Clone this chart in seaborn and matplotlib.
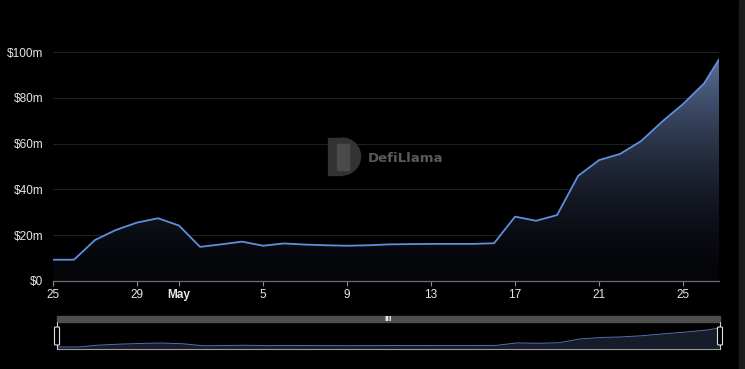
import matplotlib
matplotlib.use("Agg")
import matplotlib.dates as mdates
import matplotlib.pyplot as plt
import numpy as np
import pandas as pd
import seaborn as sns
from matplotlib.colors import LinearSegmentedColormap, to_rgb
from matplotlib.patches import FancyBboxPatch, Rectangle, Wedge

# daily TVL in $m, last point is an intraday reading
DATES = pd.to_datetime(
    list(pd.date_range("2024-04-25", "2024-05-26", freq="D")) + [pd.Timestamp("2024-05-26 17:00")]
)
TVL_M = [
    9.3, 9.3, 17.9, 22.3, 25.5, 27.4, 24.2, 14.9, 16.0, 17.2,
    15.4, 16.4, 15.9, 15.6, 15.4, 15.6, 16.0, 16.1, 16.2, 16.2,
    16.2, 16.5, 28.1, 26.3, 28.8, 45.9, 52.8, 55.5, 61.1, 69.6,
    77.3, 86.3, 96.8,
]
X_TICK_DATES = pd.to_datetime(
    ["2024-04-25", "2024-04-29", "2024-05-01", "2024-05-05", "2024-05-09",
     "2024-05-13", "2024-05-17", "2024-05-21", "2024-05-25"]
)
X_TICK_LABELS = ["25", "29", "May", "5", "9", "13", "17", "21", "25"]
Y_TICKS = [0, 20, 40, 60, 80, 100]
Y_TICK_LABELS = ["$0", "$20m", "$40m", "$60m", "$80m", "$100m"]

LINE = "#5f8fdc"
BG = "#000000"

W, H = 745, 369


def smooth_cmap(lo: str, hi: str, gamma: float = 1.7) -> LinearSegmentedColormap:
    lo_rgb = np.array(to_rgb(lo))
    hi_rgb = np.array(to_rgb(hi))
    t = np.linspace(0, 1, 64)
    cols = [tuple(lo_rgb + (hi_rgb - lo_rgb) * v ** gamma) for v in t]
    return LinearSegmentedColormap.from_list("tvl_fill", cols)


CMAP_FILL = smooth_cmap("#040509", "#5e739e")


def fig_box(x0, y0, x1, y1):
    return [x0 / W, 1 - y1 / H, (x1 - x0) / W, (y1 - y0) / H]


def main() -> None:
    sns.set_theme(style="dark")
    plt.rcParams.update(
        {
            "font.family": ["Liberation Sans", "DejaVu Sans"],
            "figure.facecolor": BG,
            "axes.facecolor": BG,
            "savefig.facecolor": BG,
        }
    )
    df = pd.DataFrame({"date": DATES, "tvl": TVL_M})
    xnum = mdates.date2num(df["date"])

    fig = plt.figure(figsize=(W / 100, H / 100), dpi=100)

    # scrollbar strip on the right edge
    fig.patches.append(Rectangle((739 / W, 0), 6 / W, 1, transform=fig.transFigure,
                                 color="#1c1c1c", zorder=0))

    ax = fig.add_axes(fig_box(53, 52, 719, 281))
    ax.set_facecolor(BG)
    fill = ax.fill_between(xnum, df["tvl"], 0, color="none", lw=0)
    grad = ax.imshow(
        np.linspace(1, 0, 256).reshape(-1, 1),
        cmap=CMAP_FILL,
        vmin=0,
        vmax=1,
        extent=[xnum[0], xnum[-1], 0, 100],
        aspect="auto",
        zorder=1,
    )
    grad.set_clip_path(fill.get_paths()[0], transform=ax.transData)
    sns.lineplot(data=df, x="date", y="tvl", color=LINE, lw=1.3, ax=ax, zorder=3)

    ax.set_xlim(xnum[0], xnum[-1])
    ax.set_ylim(0, 100)
    ax.set_yticks(Y_TICKS)
    ax.set_yticklabels(Y_TICK_LABELS)
    ax.set_xticks(mdates.date2num(X_TICK_DATES))
    ax.set_xticklabels(X_TICK_LABELS)
    for lab in ax.get_xticklabels():
        if lab.get_text() == "May":
            lab.set_fontweight("bold")
            lab.set_color("#ffffff")
    ax.set_xlabel("")
    ax.set_ylabel("")
    ax.grid(True, axis="y", color="#1f1f1f", lw=0.8)
    ax.grid(False, axis="x")
    for side in ["top", "right", "left"]:
        ax.spines[side].set_visible(False)
    ax.spines["bottom"].set_visible(True)
    ax.spines["bottom"].set_color("#6e6e6e")
    ax.spines["bottom"].set_linewidth(0.9)
    ax.tick_params(axis="x", colors="#8a8a8a", length=3.5, width=0.8, pad=2,
                   labelsize=8.5, labelcolor="#e6e6e6", bottom=True)
    ax.tick_params(axis="y", length=0, pad=7, labelsize=8.5, labelcolor="#e6e6e6")

    # DefiLlama watermark
    fig.patches.append(Rectangle((328 / W, 1 - 175 / H), 14 / W, 37 / H,
                                 transform=fig.transFigure, color="#333333", zorder=5))
    wedge = Wedge((342 / 100, (H - 156.5) / 100), 18.5 / 100, -90, 90,
                  transform=fig.dpi_scale_trans, color="#333333", zorder=5)
    fig.patches.append(wedge)
    fig.patches.append(Rectangle((337 / W, 1 - 170 / H), 12 / W, 26 / H,
                                 transform=fig.transFigure, color="#4a4a4a", zorder=6))
    fig.text(368 / W, 1 - 158 / H, "DefiLlama", color="#5a5a5a", fontsize=9.5,
             fontweight="bold", family="DejaVu Sans", va="center", ha="left")

    # range slider
    fig.patches.append(Rectangle((57 / W, 1 - 322 / H), 663 / W, 6 / H,
                                 transform=fig.transFigure, color="#4f4f4f", zorder=5))
    fig.text(388.5 / W, 1 - 319.2 / H, "III", color="#ffffff", fontsize=4.8,
             fontweight="bold", family="DejaVu Sans", ha="center", va="center", zorder=6)
    sax = fig.add_axes(fig_box(57, 322, 720, 349))
    sax.set_facecolor(BG)
    sax.fill_between(xnum, df["tvl"], 0, color="#161c2a", lw=0)
    sax.plot(xnum, df["tvl"], color=LINE, lw=0.7, alpha=0.8)
    sax.set_xlim(xnum[0], xnum[-1])
    sax.set_ylim(0, 124)
    sax.set_xticks([])
    sax.set_yticks([])
    for side in ["top", "right", "left"]:
        sax.spines[side].set_visible(False)
    sax.spines["bottom"].set_color("#9a9a9a")
    sax.spines["bottom"].set_linewidth(0.8)
    sax.grid(False)
    for hx in (57, 720):
        fig.lines.append(plt.Line2D([hx / W, hx / W], [1 - 349 / H, 1 - 322 / H],
                                    transform=fig.transFigure, color="#cfcfcf", lw=0.8, zorder=6))
        fig.patches.append(FancyBboxPatch(((hx - 2.5) / W, 1 - 345 / H), 5 / W, 18 / H,
                                          boxstyle="round,pad=0,rounding_size=0.002",
                                          transform=fig.transFigure, facecolor="#000000",
                                          edgecolor="#e0e0e0", lw=0.8, zorder=7))

    fig.savefig("out.png", dpi=100, facecolor=BG)
    plt.close(fig)


if __name__ == "__main__":
    main()
